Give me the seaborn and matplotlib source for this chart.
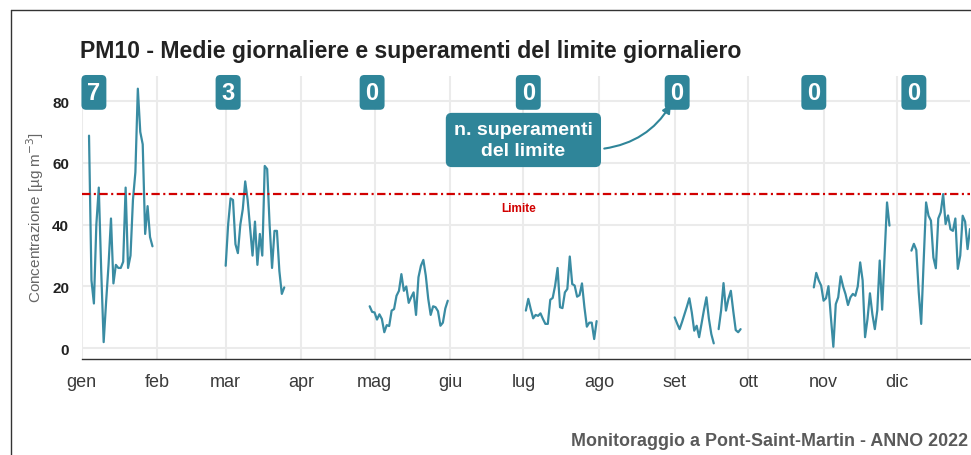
import numpy as np
import pandas as pd
import matplotlib
matplotlib.use("Agg")
import matplotlib.pyplot as plt
import seaborn as sns
from matplotlib.lines import Line2D

# ---------------- data ----------------
month_labels = ["gen", "feb", "mar", "apr", "mag", "giu", "lug", "ago", "set", "ott", "nov", "dic"]
y_ticks = [0, 20, 40, 60, 80]
limit_value = 50

seg_starts = ["2022-01-04", "2022-03-01", "2022-04-29", "2022-07-02",
              "2022-09-01", "2022-09-19", "2022-10-28", "2022-12-07"]

seg_gen = [68.8, 22, 14.5, 40, 52, 25, 2, 15, 27, 42, 21, 27, 26, 26, 28, 52,
           26, 30, 48, 57, 84, 70, 66, 37, 46, 36, 33]
seg_mar = [26.7, 40, 48.5, 48, 33.7, 30.8, 40, 45, 54, 48, 39, 30, 41, 27, 37,
           30, 59, 58, 40, 26, 38, 38, 25, 17.6, 19.7]
seg_mag = [13.6, 11.8, 11.6, 9.3, 11, 9.5, 5.2, 7.5, 7.2, 12.2, 12.7, 17, 18.6,
           24, 18.6, 20, 14.7, 16.5, 18.1, 10.8, 23, 26.7, 28.6, 23.5, 16, 10.8,
           13.6, 13.3, 12, 7.3, 8.3, 12.9, 15.4]
seg_lug = [12.2, 16, 12.7, 9.7, 10.8, 10.5, 11.3, 9.5, 7.9, 7.9, 15.7, 16.3,
           20.3, 26, 13.3, 13, 18.1, 19.2, 29.7, 20.8, 20.3, 16.7, 17.2, 21,
           13.3, 7, 8.3, 8.3, 3, 8.8]
seg_set_a = [10, 8, 6.2, 8.5, 11, 13.5, 16.2, 11.6, 5.7, 7.3, 3.6, 8, 12.5,
             16.5, 9.6, 4.6, 1.6]
seg_set_b = [6.2, 12.2, 21.1, 12.2, 16, 18.6, 12, 5.9, 5.2, 6.2]
seg_nov = [19.7, 24.4, 22, 20.3, 15.4, 16.2, 20.1, 10, 0.5, 14.3, 16.5, 23.3,
           20, 17.5, 14, 16.5, 17.6, 17, 20, 27.8, 22, 3.6, 9.5, 17.8, 11, 6.2,
           12.2, 28.4, 12.5, 30, 47.2, 39.7]
seg_dic = [31.6, 33.8, 31.8, 18.1, 7.9, 28, 47.2, 42.9, 41.3, 29.4, 25.9, 42,
           44, 49.9, 40.2, 43, 38.5, 38, 42, 25.7, 30, 42.9, 41, 32.1, 38.6]

seg_values = [seg_gen, seg_mar, seg_mag, seg_lug, seg_set_a, seg_set_b, seg_nov, seg_dic]

count_dates = ["2022-01-06", "2022-03-02", "2022-04-30", "2022-07-03",
               "2022-09-02", "2022-10-28", "2022-12-08"]
count_values = [7, 3, 0, 0, 0, 0, 0]
count_y = 82.8

limit_label = "Limite"
limit_label_date = "2022-06-29"
limit_label_y = 45.4

note_text = "n. superamenti\ndel limite"
note_date = "2022-07-01"
note_y = 67.4
arrow_from = ("2022-08-02", 64.5)
arrow_to = ("2022-08-31", 79.7)

title = "PM10 - Medie giornaliere e superamenti del limite giornaliero"
caption = "Monitoraggio a Pont-Saint-Martin - ANNO 2022"
ylabel = "Concentrazione [µg m$^{-3}$]"

# ---------------- build table ----------------
frames = []
for k, (start, vals) in enumerate(zip(seg_starts, seg_values)):
    dates = pd.date_range(start, periods=len(vals), freq="D")
    frames.append(pd.DataFrame({"data": dates, "pm10": vals, "seg": k}))
df = pd.concat(frames, ignore_index=True)

# ---------------- style ----------------
sns.set_style("white")
plt.rcParams["font.family"] = ["Liberation Sans", "DejaVu Sans"]
plt.rcParams["lines.scale_dashes"] = False

teal_box = "#2f8599"
teal_line = "#3a8ca3"
red = "#d10000"
grid_c = "#ebebeb"

W, H = 971, 456
fig = plt.figure(figsize=(W / 100, H / 100), dpi=100)
ax_l, ax_r, ax_t, ax_b = 81.7, 970.0, 76.7, 360.0
ax = fig.add_axes([ax_l / W, 1 - ax_b / H, (ax_r - ax_l) / W, (ax_b - ax_t) / H])

month_starts = pd.date_range("2022-01-01", periods=12, freq="MS")
ax.set_xlim(pd.Timestamp("2022-01-01"), pd.Timestamp("2022-12-31"))
ax.set_ylim(-3.46, 88.2)

ax.set_xticks(month_starts)
ax.set_xticklabels(month_labels)
ax.set_yticks(y_ticks)
ax.set_yticklabels([str(v) for v in y_ticks])

ax.grid(True, which="major", axis="both", color=grid_c, lw=1.5)
ax.set_axisbelow(True)
for s in ["top", "right", "left"]:
    ax.spines[s].set_visible(False)
ax.spines["bottom"].set_color("#333333")
ax.spines["bottom"].set_linewidth(1.0)
ax.tick_params(axis="x", length=4, width=1, color="#333333", pad=6,
               labelsize=13, labelcolor="#3a3a3a")
ax.tick_params(axis="y", length=0, pad=9, labelsize=11, labelcolor="#222222")
for t in ax.get_yticklabels():
    t.set_fontweight("bold")

# data lines
sns.lineplot(data=df, x="data", y="pm10", units="seg", estimator=None,
             color=teal_line, lw=1.6, ax=ax, legend=False)
ax.set_xlabel("")
ax.set_ylabel("")

# limit line
ax.axhline(limit_value, color=red, lw=1.6, linestyle=(0, (6, 2.5, 1.5, 2.5)))
ax.text(pd.Timestamp(limit_label_date), limit_label_y, limit_label, color=red,
        fontsize=8.5, fontweight="bold", ha="center", va="center")

# counts boxes
for d, c in zip(count_dates, count_values):
    ax.text(pd.Timestamp(d), count_y, str(c), color="white", fontsize=17,
            fontweight="bold", ha="center", va="center",
            bbox=dict(boxstyle="round,pad=0.25,rounding_size=0.2", fc=teal_box, ec="none"))

# note box
ax.text(pd.Timestamp(note_date), note_y, note_text, color="white", fontsize=14,
        fontweight="bold", ha="center", va="center", linespacing=1.3,
        bbox=dict(boxstyle="round,pad=0.42,rounding_size=0.3", fc=teal_box, ec="none"))
ax.annotate("", xy=(pd.Timestamp(arrow_to[0]), arrow_to[1]),
            xytext=(pd.Timestamp(arrow_from[0]), arrow_from[1]),
            arrowprops=dict(arrowstyle="-|>,head_length=0.5,head_width=0.25",
                            connectionstyle="arc3,rad=0.25", color=teal_box, lw=1.5))

# titles
fig.text(80 / W, 1 - 58 / H, title, fontsize=16.6, fontweight="bold",
         color="#222222", ha="left", va="baseline")
fig.text(968 / W, 1 - 446 / H, caption, fontsize=12.9, fontweight="bold",
         color="#5a5a5a", ha="right", va="baseline")
fig.text(35 / W, 1 - 218 / H, ylabel, fontsize=11, color="#666666",
         rotation=90, ha="center", va="center")

# frame
fig.add_artist(Line2D([11 / W, 11 / W], [0, 1 - 11 / H], color="#333333", lw=1.0,
                      transform=fig.transFigure))
fig.add_artist(Line2D([11 / W, 1], [1 - 11 / H, 1 - 11 / H], color="#333333", lw=1.0,
                      transform=fig.transFigure))

fig.savefig("out.png", dpi=100)
